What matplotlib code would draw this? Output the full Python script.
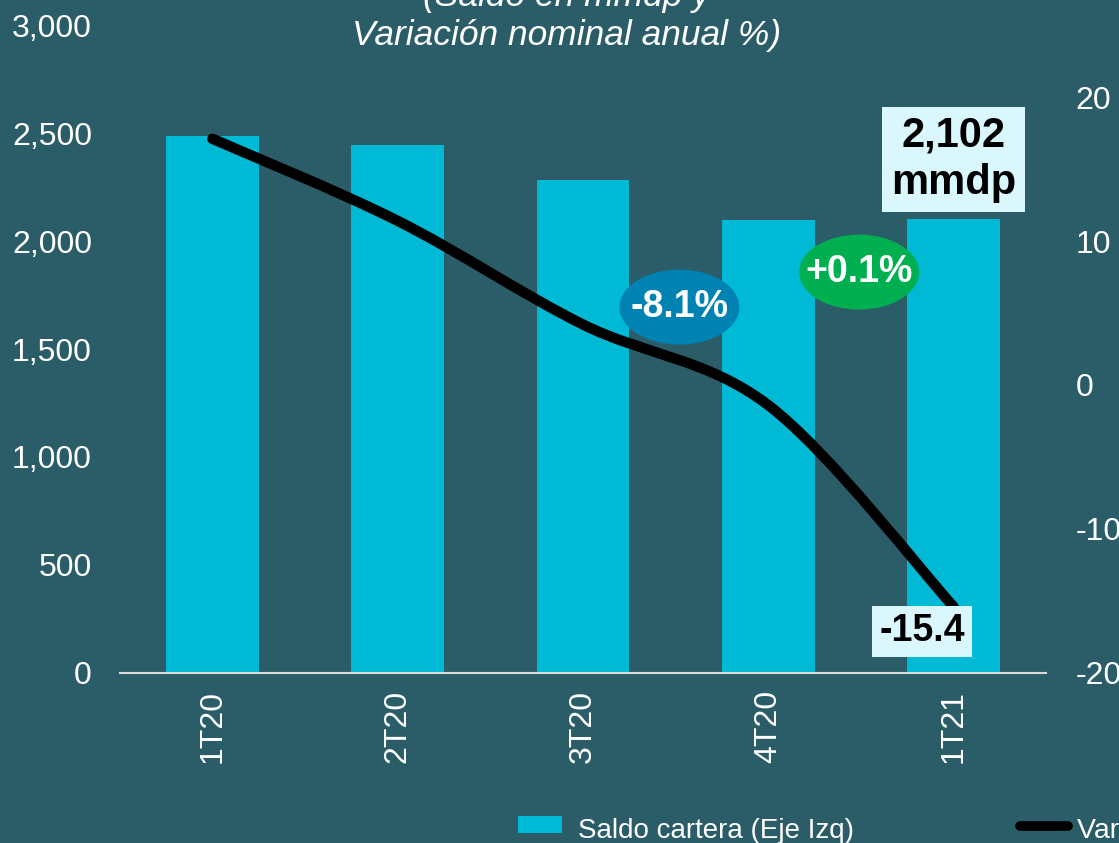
import matplotlib
matplotlib.use("Agg")
import matplotlib.pyplot as plt
from matplotlib.path import Path
from matplotlib.patches import PathPatch, Ellipse
import numpy as np

# Data
quarters = ["1T20", "2T20", "3T20", "4T20", "1T21"]
saldo = [2486, 2444, 2282, 2097, 2102]          # mmdp, left axis
variacion = [17.1, 11.4, 4.2, -1.4, -15.4]      # % anual, right axis
left_ticks = [0, 500, 1000, 1500, 2000, 2500, 3000]
right_ticks = [-20, -10, 0, 10, 20]

BG = "#2B5D68"
BAR = "#00B9D4"
BOX = "#DAF7FD"

plt.rcParams["font.family"] = ["Liberation Sans", "DejaVu Sans"]
plt.rcParams["axes.unicode_minus"] = False

fig = plt.figure(figsize=(11.19, 8.43), dpi=100, facecolor=BG)
ax = fig.add_axes([0.107, 0.2017, 0.828, 0.7686], facecolor=BG)
ax2 = ax.twinx()

x = np.arange(len(quarters))
ax.bar(x, saldo, width=0.5, color=BAR, zorder=2)
ax.set_xlim(-0.5, len(quarters) - 0.5)
ax.set_ylim(0, 3000)
ax.set_yticks(left_ticks)
ax.set_yticklabels([f"{v:,}" for v in left_ticks])
ax.set_xticks(x)
ax.set_xticklabels(quarters, rotation=90)
ax.tick_params(axis="both", length=0, labelsize=23, labelcolor="white")
ax.tick_params(axis="y", pad=20)
ax.tick_params(axis="x", pad=12)
for s in ["top", "right", "left"]:
    ax.spines[s].set_visible(False)
ax.spines["bottom"].set_color("#D9D9D9")
ax.spines["bottom"].set_linewidth(1.5)

ax2.set_ylim(-20, 25)
ax2.set_yticks(right_ticks)
ax2.tick_params(axis="y", length=0, labelsize=23, labelcolor="white", pad=21)
for s in ax2.spines.values():
    s.set_visible(False)

# smoothed line (Catmull-Rom as cubic bezier)
pts = np.column_stack([x, variacion]).astype(float)
verts = [tuple(pts[0])]
codes = [Path.MOVETO]
for i in range(len(pts) - 1):
    p0 = pts[i - 1] if i > 0 else pts[i]
    p1 = pts[i]
    p2 = pts[i + 1]
    p3 = pts[i + 2] if i + 2 < len(pts) else pts[i + 1]
    c1 = p1 + (p2 - p0) / 6
    c2 = p2 - (p3 - p1) / 6
    verts += [tuple(c1), tuple(c2), tuple(p2)]
    codes += [Path.CURVE4] * 3
ax2.add_patch(PathPatch(Path(verts, codes), fill=False, lw=7.5, ec="black",
                        capstyle="round", joinstyle="round", zorder=3))

# annotations
ax.text(4, 2378, f"{saldo[-1]:,}\nmmdp", ha="center", va="center", fontsize=30,
        fontweight="bold", linespacing=1.22, zorder=5,
        bbox=dict(boxstyle="square,pad=0.22", fc=BOX, ec="none"))
ax2.text(3.83, -17.1, f"{variacion[-1]}", ha="center", va="center", fontsize=27,
         fontweight="bold", zorder=5,
         bbox=dict(boxstyle="square,pad=0.2", fc=BOX, ec="none"))

ax.add_patch(Ellipse((2.52, 1694), 0.647, 347, fc="#0082B2", ec="none", zorder=4))
ax.text(2.52, 1694, "-8.1%", ha="center", va="center", fontsize=27,
        fontweight="bold", color="white", zorder=5)
ax.add_patch(Ellipse((3.49, 1856), 0.647, 347, fc="#00AF50", ec="none", zorder=4))
ax.text(3.49, 1856, "+0.1%", ha="center", va="center", fontsize=27,
        fontweight="bold", color="white", zorder=5)

# title (partially cut off at top)
fig.text(0.506, 0.981, "(Saldo en mmdp y\nVariación nominal anual %)", ha="center",
         va="center", fontsize=25.5, style="italic", color="white", linespacing=1.2)

# legend (partially cut off at right)
fig.patches.append(plt.Rectangle((518 / 1119, 1 - 833 / 843), 44 / 1119, 17 / 843,
                                 transform=fig.transFigure, fc=BAR, ec="none"))
fig.text(578 / 1119, 1 - 838 / 843, "Saldo cartera (Eje Izq)", fontsize=20,
         color="white", va="baseline")
fig.lines.append(plt.Line2D([1020 / 1119, 1068 / 1119], [1 - 826 / 843] * 2,
                            transform=fig.transFigure, color="black", lw=7,
                            solid_capstyle="round"))
fig.text(1077 / 1119, 1 - 838 / 843, "Variación nominal anual (Eje Der)",
         fontsize=20.5, color="white", va="baseline")

fig.savefig("out.png", dpi=100, facecolor=BG)
